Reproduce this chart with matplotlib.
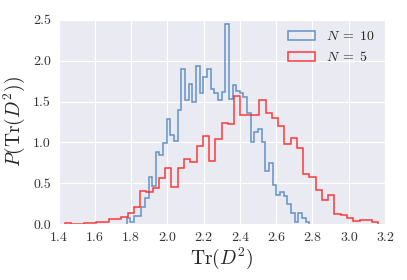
import numpy as np
import matplotlib
matplotlib.use("Agg")
import matplotlib.pyplot as plt
import seaborn as sns

# --- data -------------------------------------------------------------
# N = 10 : 50 bins, density values
n10_start, n10_stop = 1.775, 2.782
n10_heights = [0.07, 0.03, 0.10, 0.10, 0.21, 0.32, 0.58, 0.47, 0.88, 0.84,
               0.99, 1.28, 1.09, 1.02, 1.40, 1.90, 1.52, 1.72, 1.50, 1.94,
               1.61, 1.80, 1.90, 1.65, 1.60, 1.52, 1.62, 2.45, 1.53, 1.70,
               1.63, 1.60, 1.55, 1.36, 1.01, 1.13, 1.16, 1.01, 0.65, 0.75,
               0.48, 0.36, 0.39, 0.34, 0.24, 0.13, 0.03, 0.14, 0.07, 0.03]
# N = 5 : 50 bins, density values
n5_start, n5_stop = 1.435, 3.163
n5_heights = [0.01, 0.004, 0.004, 0.01, 0.01, 0.03, 0.02, 0.06, 0.06, 0.09,
              0.14, 0.21, 0.40, 0.39, 0.44, 0.56, 0.69, 0.45, 0.69, 0.80,
              0.76, 0.96, 1.08, 0.77, 1.04, 1.24, 1.23, 1.57, 1.34, 1.34,
              1.34, 1.52, 1.36, 1.30, 1.20, 0.98, 1.05, 0.93, 0.61, 0.57,
              0.42, 0.29, 0.36, 0.12, 0.11, 0.07, 0.04, 0.045, 0.045, 0.02]
labels = [r"$N\;=\;10$", r"$N\;=\;5$"]
xticks = [1.4, 1.6, 1.8, 2.0, 2.2, 2.4, 2.6, 2.8, 3.0, 3.2]
yticks = [0.0, 0.5, 1.0, 1.5, 2.0, 2.5]

# --- style ------------------------------------------------------------
sns.set_style("darkgrid")
plt.rcParams["font.family"] = "serif"
plt.rcParams["font.serif"] = ["cmr10"]
plt.rcParams["mathtext.fontset"] = "cm"
plt.rcParams["axes.formatter.use_mathtext"] = True

fig = plt.figure(figsize=(4.07, 2.80), dpi=100)
ax = fig.add_axes([0.144, 0.2, 0.802, 0.729])

e10 = np.linspace(n10_start, n10_stop, len(n10_heights) + 1)
e5 = np.linspace(n5_start, n5_stop, len(n5_heights) + 1)

ax.hist(e10[:-1], bins=e10, weights=n10_heights, histtype="step",
        color="#4a84bf", alpha=0.85, lw=1.1, label=labels[0])
ax.hist(e5[:-1], bins=e5, weights=n5_heights, histtype="step",
        color="#ff1a1a", alpha=0.85, lw=1.1, label=labels[1])

ax.set_xlim(1.4, 3.2)
ax.set_ylim(0, 2.5)
ax.set_xticks(xticks)
ax.set_xticklabels([f"{t:.1f}" for t in xticks])
ax.set_yticks(yticks)
ax.set_yticklabels([f"{t:.1f}" for t in yticks])
ax.tick_params(labelsize=10, colors="#333333", pad=2)
ax.set_xlabel(r"$\mathrm{Tr}(D^2)$", fontsize=14, labelpad=1)
ax.set_ylabel(r"$P(\mathrm{Tr}(D^2))$", fontsize=14, labelpad=4)
ax.legend(loc="upper right", frameon=False, fontsize=10,
          bbox_to_anchor=(1.0, 1.0), borderaxespad=0.35, handletextpad=0.75)

fig.savefig("out.png", dpi=100)
